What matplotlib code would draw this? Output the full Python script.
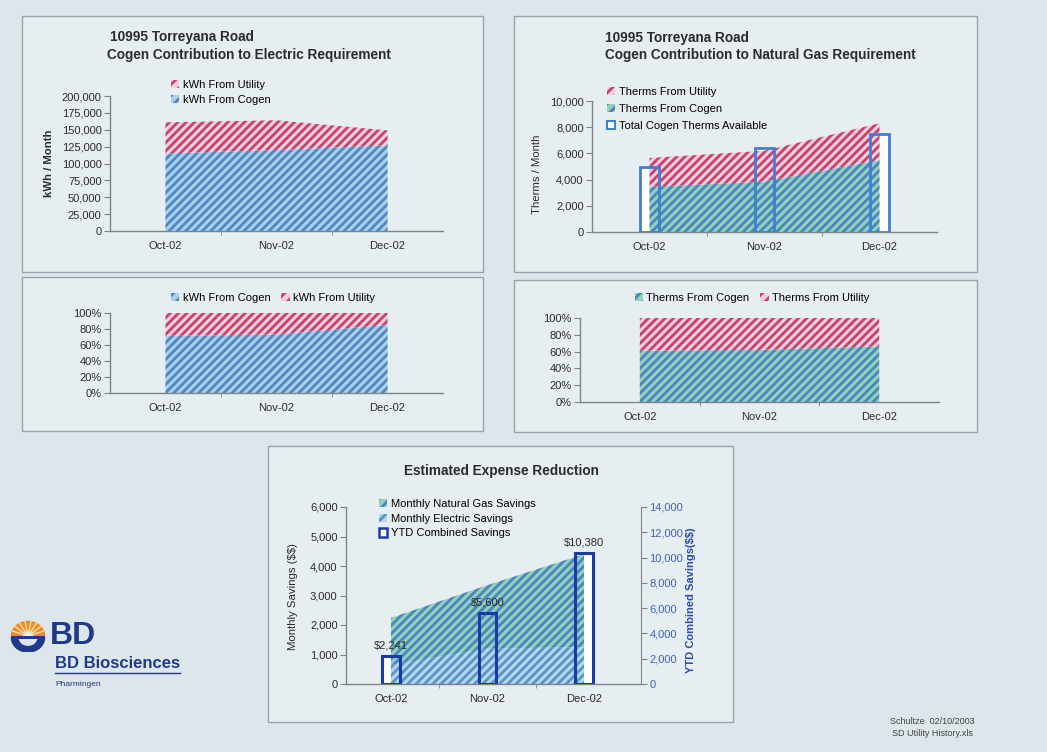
import matplotlib
matplotlib.use('Agg')
import matplotlib.pyplot as plt
from matplotlib.patches import Rectangle, Patch, Wedge
from matplotlib.lines import Line2D
from matplotlib.ticker import FuncFormatter, FixedLocator
import numpy as np

plt.rcParams['font.family'] = ['Liberation Sans', 'DejaVu Sans']
plt.rcParams['hatch.linewidth'] = 2.0
plt.rcParams['text.parse_math'] = False

# ---------------- data ----------------
months = ['Oct-02', 'Nov-02', 'Dec-02']
kwh_cogen = [115000, 120000, 127000]
kwh_utility = [46000, 44000, 22000]
therms_cogen = [3450, 3850, 5500]
therms_utility = [2200, 2350, 2800]
therms_available = [4960, 6410, 7480]
elec_savings = [650, 1200, 1250]
gas_savings = [1590, 2150, 3150]
ytd_savings = [2241, 5600, 10380]

W, H = 1047, 752
fig = plt.figure(figsize=(W / 100, H / 100), dpi=100)
fig.patch.set_facecolor('#dde6ea')

PANEL_FACE = '#e7eef1'
BLUE_FACE, BLUE_HATCH = '#a9d0ea', '#4f87c3'
RED_FACE, RED_HATCH = '#f3cfdc', '#c8406e'
TEAL_FACE, TEAL_HATCH = '#93d0bd', '#4a86bb'
TXT = '#2b2b2b'
SPINE = '#7d8487'
HATCH = '////'
FS = 8
TFS = 9.8

x = np.arange(len(months))


def px_axes(l, t, r, b, **kw):
    return fig.add_axes([l / W, 1 - b / H, (r - l) / W, (b - t) / H], **kw)


def panel(l, t, r, b):
    fig.patches.append(Rectangle((l / W, 1 - b / H), (r - l) / W, (b - t) / H,
                                 transform=fig.transFigure, facecolor=PANEL_FACE,
                                 edgecolor='#9aa3a7', linewidth=1.0, zorder=-5))


def ftext(xp, yp, s, **kw):
    kw.setdefault('color', TXT)
    fig.text(xp / W, 1 - yp / H, s, **kw)


def style(ax, xlim=(-0.5, 2.5)):
    ax.set_facecolor('none')
    for s in ('top', 'right'):
        ax.spines[s].set_visible(False)
    for s in ('left', 'bottom'):
        ax.spines[s].set_color(SPINE)
        ax.spines[s].set_linewidth(1.0)
    ax.set_xlim(*xlim)
    ax.set_xticks(x)
    ax.set_xticklabels(months)
    ax.xaxis.set_minor_locator(FixedLocator([0.5, 1.5]))
    ax.tick_params(axis='x', which='major', length=0, pad=7.5, labelsize=FS, labelcolor=TXT)
    ax.tick_params(axis='x', which='minor', length=3, color=SPINE, direction='out')
    ax.tick_params(axis='y', length=4, color=SPINE, direction='out', pad=2,
                   labelsize=FS, labelcolor=TXT)


def hatch_handle(face, hatch_col):
    return Patch(facecolor=face, edgecolor=hatch_col, hatch='///', linewidth=0)


comma = FuncFormatter(lambda v, p: f'{int(v):,}')
pct = FuncFormatter(lambda v, p: f'{int(round(v * 100))}%')
LEG = dict(frameon=False, fontsize=FS, handlelength=0.75, handleheight=0.75,
           handletextpad=0.3, borderpad=0, borderaxespad=0)

# ---------------- panels ----------------
panel(22, 16, 483, 272)
panel(514, 16, 977, 272)
panel(22, 277, 483, 431)
panel(514, 280, 977, 432)
panel(268, 446, 733, 722)

# ---------- Panel 1: electric kWh ----------
ax1 = px_axes(110, 96, 443, 231)
style(ax1)
k_tot = np.add(kwh_cogen, kwh_utility)
ax1.fill_between(x, 0, kwh_cogen, facecolor=BLUE_FACE, edgecolor=BLUE_HATCH,
                 hatch=HATCH, linewidth=0, zorder=2)
ax1.fill_between(x, kwh_cogen, k_tot, facecolor=RED_FACE, edgecolor=RED_HATCH,
                 hatch=HATCH, linewidth=0, zorder=2)
ax1.set_ylim(0, 200000)
ax1.set_yticks(np.arange(0, 200001, 25000))
ax1.yaxis.set_major_formatter(comma)
ftext(110, 37, '10995 Torreyana Road', fontsize=TFS, fontweight='bold', va='center')
ftext(107, 55, 'Cogen Contribution to Electric Requirement', fontsize=TFS,
      fontweight='bold', va='center')
ftext(49, 163, 'kWh / Month', fontsize=8.2, fontweight='bold', rotation=90,
      ha='center', va='center')
fig.legend(handles=[hatch_handle(RED_FACE, RED_HATCH), hatch_handle(BLUE_FACE, BLUE_HATCH)],
           labels=['kWh From Utility', 'kWh From Cogen'], loc='upper left',
           bbox_to_anchor=(171 / W, 1 - 80 / H), labelspacing=0.42, **LEG)

# ---------- Panel 2: natural gas therms ----------
ax2 = px_axes(592, 101, 937, 232)
style(ax2)
t_tot = np.add(therms_cogen, therms_utility)
bw = 0.17
ax2.bar(x, therms_available, width=bw, facecolor='white', edgecolor='none', zorder=1)
ax2.fill_between(x, 0, therms_cogen, facecolor=TEAL_FACE, edgecolor=TEAL_HATCH,
                 hatch=HATCH, linewidth=0, zorder=2)
ax2.fill_between(x, therms_cogen, t_tot, facecolor=RED_FACE, edgecolor=RED_HATCH,
                 hatch=HATCH, linewidth=0, zorder=2)
ax2.bar(x, therms_available, width=bw, fill=False, edgecolor='#3f80cf', linewidth=2,
        zorder=3)
ax2.set_ylim(0, 10000)
ax2.set_yticks(np.arange(0, 10001, 2000))
ax2.yaxis.set_major_formatter(comma)
ftext(605, 38, '10995 Torreyana Road', fontsize=TFS, fontweight='bold', va='center')
ftext(605, 55, 'Cogen Contribution to Natural Gas Requirement', fontsize=TFS,
      fontweight='bold', va='center')
ftext(537, 174, 'Therms / Month', fontsize=8.2, rotation=90, ha='center', va='center')
fig.legend(handles=[hatch_handle(RED_FACE, RED_HATCH), hatch_handle(TEAL_FACE, TEAL_HATCH),
                    Patch(facecolor='white', edgecolor='#3f80cf', linewidth=1.5)],
           labels=['Therms From Utility', 'Therms From Cogen', 'Total Cogen Therms Available'],
           loc='upper left', bbox_to_anchor=(607 / W, 1 - 87 / H), labelspacing=0.62, **LEG)

# ---------- Panel 3: electric % ----------
ax3 = px_axes(110, 313, 443, 393)
style(ax3)
k_pct = np.divide(kwh_cogen, k_tot)
ax3.fill_between(x, 0, k_pct, facecolor=BLUE_FACE, edgecolor=BLUE_HATCH,
                 hatch=HATCH, linewidth=0, zorder=2)
ax3.fill_between(x, k_pct, np.ones(len(x)), facecolor=RED_FACE, edgecolor=RED_HATCH,
                 hatch=HATCH, linewidth=0, zorder=2)
ax3.set_ylim(0, 1)
ax3.set_yticks(np.arange(0, 1.01, 0.2))
ax3.yaxis.set_major_formatter(pct)
fig.legend(handles=[hatch_handle(BLUE_FACE, BLUE_HATCH), hatch_handle(RED_FACE, RED_HATCH)],
           labels=['kWh From Cogen', 'kWh From Utility'], loc='center',
           bbox_to_anchor=(273 / W, 1 - 298 / H), ncol=2, columnspacing=1.0, **LEG)

# ---------- Panel 4: gas % ----------
ax4 = px_axes(580, 318, 939, 402)
style(ax4)
t_pct = np.divide(therms_cogen, t_tot)
ax4.fill_between(x, 0, t_pct, facecolor=TEAL_FACE, edgecolor=TEAL_HATCH,
                 hatch=HATCH, linewidth=0, zorder=2)
ax4.fill_between(x, t_pct, np.ones(len(x)), facecolor=RED_FACE, edgecolor=RED_HATCH,
                 hatch=HATCH, linewidth=0, zorder=2)
ax4.set_ylim(0, 1)
ax4.set_yticks(np.arange(0, 1.01, 0.2))
ax4.yaxis.set_major_formatter(pct)
fig.legend(handles=[hatch_handle(TEAL_FACE, TEAL_HATCH), hatch_handle(RED_FACE, RED_HATCH)],
           labels=['Therms From Cogen', 'Therms From Utility'], loc='center',
           bbox_to_anchor=(752 / W, 1 - 298 / H), ncol=2, columnspacing=1.0, **LEG)

# ---------- Panel 5: savings ----------
xl5 = (-0.466, 2.59)
ax5 = px_axes(346, 507, 641, 684)
style(ax5, xlim=xl5)
ax5b = ax5.twinx()          # white bar fill, behind areas
ax5b.set_zorder(ax5.get_zorder() - 1)
ax5.patch.set_visible(False)
ax5b.set_facecolor('none')
ax5b.axis('off')
ax5c = ax5.twinx()          # bar outlines + right axis, on top
bw5 = 0.18
ax5b.bar(x, ytd_savings, width=bw5, facecolor='white', edgecolor='none')
ax5b.set_ylim(0, 14000)
ax5b.set_xlim(*xl5)
tot5 = np.add(elec_savings, gas_savings)
ax5.fill_between(x, 0, elec_savings, facecolor='#b2d8ec', edgecolor='#5a93c8',
                 hatch=HATCH, linewidth=0, zorder=2)
ax5.fill_between(x, elec_savings, tot5, facecolor=TEAL_FACE, edgecolor=TEAL_HATCH,
                 hatch=HATCH, linewidth=0, zorder=2)
ax5.set_ylim(0, 6000)
ax5.set_yticks(np.arange(0, 6001, 1000))
ax5.yaxis.set_major_formatter(comma)
ax5c.bar(x, ytd_savings, width=bw5, fill=False, edgecolor='#1c3aa6', linewidth=2.2)
ax5c.set_ylim(0, 14000)
ax5c.set_xlim(*xl5)
ax5c.set_yticks(np.arange(0, 14001, 2000))
ax5c.yaxis.set_major_formatter(comma)
for s in ('top', 'left', 'bottom'):
    ax5c.spines[s].set_visible(False)
ax5c.spines['right'].set_color(SPINE)
ax5c.tick_params(axis='y', length=4, color=SPINE, pad=2, labelsize=FS, labelcolor='#3f63b8')
for xi, v in zip(x, ytd_savings):
    ax5c.annotate(f'${v:,}', (xi, v), xytext=(0, 4), textcoords='offset points',
                  ha='center', va='bottom', fontsize=FS, color=TXT)
ftext(501, 471, 'Estimated Expense Reduction', fontsize=TFS, fontweight='bold',
      ha='center', va='center')
ftext(293, 597, 'Monthly Savings ($$)', fontsize=8.2, rotation=90, ha='center', va='center')
ftext(691, 600, 'YTD Combined Savings($$)', fontsize=8, rotation=90, ha='center',
      va='center', color='#2a4cae', fontweight='bold')
fig.legend(handles=[hatch_handle(TEAL_FACE, TEAL_HATCH), hatch_handle('#b2d8ec', '#5a93c8'),
                    Patch(facecolor='white', edgecolor='#1c3aa6', linewidth=1.8)],
           labels=['Monthly Natural Gas Savings', 'Monthly Electric Savings',
                   'YTD Combined Savings'],
           loc='upper left', bbox_to_anchor=(379 / W, 1 - 499 / H), labelspacing=0.42, **LEG)

# ---------------- BD logo & footer ----------------
lax = px_axes(9, 620, 47, 652)
lax.set_xlim(-1.1, 1.1)
lax.set_ylim(-1.0, 1.1)
lax.axis('off')
lax.add_patch(Wedge((0, 0.05), 1.0, 0, 180, facecolor='#f08a22', edgecolor='none'))
for ang in np.linspace(20, 160, 8):
    a = np.deg2rad(ang)
    lax.plot([0.25 * np.cos(a), 0.95 * np.cos(a)], [0.05 + 0.25 * np.sin(a), 0.05 + 0.95 * np.sin(a)],
             color='#fde3b0', lw=1.0)
lax.add_patch(Wedge((0, 0.05), 0.3, 0, 180, facecolor='#fff2cc', edgecolor='none'))
lax.add_patch(Wedge((0, -0.05), 1.0, 180, 360, width=0.45, facecolor='#1f3a8a',
                    edgecolor='none'))
lax.add_patch(Rectangle((-1.0, -0.12), 2.0, 0.14, facecolor='#1f3a8a', edgecolor='none'))

ftext(50, 636, 'BD', fontsize=23, fontweight='bold', color='#1f3a8a', va='center')
ftext(55, 664, 'BD Biosciences', fontsize=12, fontweight='bold', color='#1f3a8a',
      va='center')
fig.add_artist(Line2D([55 / W, 180 / W], [1 - 673 / H, 1 - 673 / H],
                      transform=fig.transFigure, color='#1f3a8a', lw=1.0))
ftext(55, 685, 'Pharmingen', fontsize=6, color='#1f3a8a', va='center')

ftext(932, 722, 'Schultze  02/10/2003', fontsize=6.5, ha='center', va='center', color='#444444')
ftext(932, 733, 'SD Utility History.xls', fontsize=6.5, ha='center', va='center', color='#444444')

fig.savefig('out.png', dpi=100, facecolor=fig.get_facecolor())
